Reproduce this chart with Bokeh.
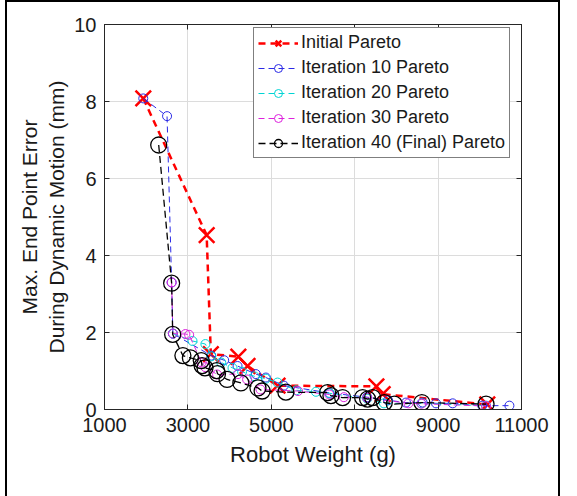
from bokeh.plotting import figure
from bokeh.models import Range1d, FixedTicker, LinearAxis, Legend, LegendItem
from bokeh.embed import file_html
from bokeh.resources import INLINE

x_ticks = [1000, 3000, 5000, 7000, 9000, 11000]
y_ticks = [0, 2, 4, 6, 8, 10]

init_x = [1930, 3450, 3550, 4210, 4430, 5150, 7520, 7670, 10180]
init_y = [8.08, 4.53, 1.44, 1.37, 1.13, 0.62, 0.60, 0.40, 0.13]

it10_x = [1930, 2500, 2610, 2640, 3560, 3870, 4190, 4630, 4870, 5300, 6390, 7300, 7800, 8230, 8630, 8950, 9350, 10060, 10710]
it10_y = [8.08, 7.62, 3.30, 1.97, 1.40, 1.28, 1.13, 0.92, 0.83, 0.62, 0.43, 0.32, 0.24, 0.18, 0.18, 0.16, 0.16, 0.10, 0.10]

it20_x = [2640, 3110, 3420, 3560, 3800, 4070, 4300, 4600, 4870, 5150, 5600, 6070, 6400, 7300, 7700, 8600, 10150]
it20_y = [1.97, 1.78, 1.70, 1.38, 1.22, 1.08, 0.98, 0.86, 0.80, 0.70, 0.50, 0.46, 0.42, 0.28, 0.16, 0.16, 0.10]

it30_x = [2610, 2640, 2940, 3030, 3330, 3420, 3700, 4200, 4420, 4740, 5640, 6390, 6740, 7300, 8290, 8600, 10150]
it30_y = [3.30, 1.97, 1.96, 1.94, 1.22, 1.10, 0.91, 0.92, 0.78, 0.52, 0.48, 0.39, 0.32, 0.30, 0.16, 0.15, 0.09]

it40_x = [2300, 2610, 2635, 2880, 3060, 3320, 3340, 3410, 3690, 3710, 3940, 4270, 4680, 4780, 5350, 6350, 6430, 6710, 7190, 7310, 7430, 7710, 7950, 8610, 10150]
it40_y = [6.87, 3.28, 1.95, 1.40, 1.34, 1.27, 1.14, 1.08, 1.01, 0.93, 0.78, 0.69, 0.56, 0.48, 0.45, 0.44, 0.36, 0.31, 0.31, 0.27, 0.31, 0.18, 0.14, 0.18, 0.14]

labels = ["Initial Pareto", "Iteration 10 Pareto", "Iteration 20 Pareto",
          "Iteration 30 Pareto", "Iteration 40 (Final) Pareto"]

FONT = "Liberation Sans"
TXT = "#1a1a1a"
AX = "#262626"

p = figure(width=555, height=496, x_range=Range1d(1000, 11000), y_range=Range1d(0, 10),
           output_backend="svg", toolbar_location=None,
           min_border_left=97, min_border_right=41, min_border_top=22, min_border_bottom=89)
p.styles = {"border-left": "2px solid black", "border-right": "2px solid black",
            "border-top": "2px solid black", "margin-left": "5px"}
p.outline_line_color = AX
p.outline_line_width = 1

for ax, ticks in ((p.xaxis[0], x_ticks), (p.yaxis[0], y_ticks)):
    ax.ticker = FixedTicker(ticks=ticks)
    ax.major_tick_in = 5
    ax.major_tick_out = 0
    ax.minor_tick_line_color = None
    ax.axis_line_color = AX
    ax.major_tick_line_color = AX
    ax.major_label_text_font = FONT
    ax.major_label_text_font_size = "20px"
    ax.major_label_text_color = TXT
    ax.major_label_standoff = 8
    ax.axis_label_text_font = FONT
    ax.axis_label_text_font_style = "normal"
    ax.axis_label_text_color = TXT

p.xaxis[0].axis_label = "Robot Weight (g)"
p.xaxis[0].axis_label_text_font_size = "22px"
p.xaxis[0].axis_label_standoff = 7
p.yaxis[0].axis_label = "Max. End Point Error\nDuring Dynamic Motion (mm)"
p.yaxis[0].axis_label_text_font_size = "21px"
p.yaxis[0].axis_label_standoff = 3

for loc, ticks in (("right", y_ticks), ("above", x_ticks)):
    a = LinearAxis(ticker=FixedTicker(ticks=ticks),
                   major_label_overrides={t: "" for t in ticks},
                   major_tick_in=5, major_tick_out=0, minor_tick_line_color=None,
                   axis_line_color=AX, major_tick_line_color=AX,
                   major_label_standoff=0, major_label_text_font_size="1px")
    p.add_layout(a, loc)

p.xgrid.ticker = FixedTicker(ticks=x_ticks)
p.ygrid.ticker = FixedTicker(ticks=y_ticks)
p.grid.grid_line_color = "#dcdcdc"
p.grid.grid_line_width = 1

items = []
l0 = p.line(init_x, init_y, line_color="#ff0000", line_width=2.5, line_dash="7 5")
s0 = p.scatter(init_x, init_y, marker="x", size=22, line_color="#ff0000", line_width=2.5)
items.append(LegendItem(label=labels[0], renderers=[l0, s0]))

specs = [
    (it10_x, it10_y, "#2a2ae6", 9, 1.0, "6 4"),
    (it20_x, it20_y, "#00d4d4", 9, 1.0, "6 4"),
    (it30_x, it30_y, "#dd22dd", 9, 1.0, "6 4"),
    (it40_x, it40_y, "#000000", 16, 1.3, "7 4"),
]
for (xs, ys, c, sz, lw, dash), lab in zip(specs, labels[1:]):
    ln = p.line(xs, ys, line_color=c, line_width=lw, line_dash=dash)
    sc = p.scatter(xs, ys, marker="circle", size=sz, fill_color=None, line_color=c, line_width=lw)
    items.append(LegendItem(label=lab, renderers=[ln, sc]))

leg = Legend(items=items, location=(149, 251))
leg.label_text_font = FONT
leg.label_text_font_size = "18px"
leg.label_text_color = TXT
leg.glyph_width = 40
leg.glyph_height = 20
leg.label_height = 20
leg.spacing = 4
leg.padding = 4
leg.margin = 0
leg.label_standoff = 3
leg.border_line_color = "#000000"
leg.border_line_width = 1
leg.background_fill_color = "white"
leg.background_fill_alpha = 1
p.add_layout(leg, "center")

open("out.html", "w").write(file_html(p, INLINE))
